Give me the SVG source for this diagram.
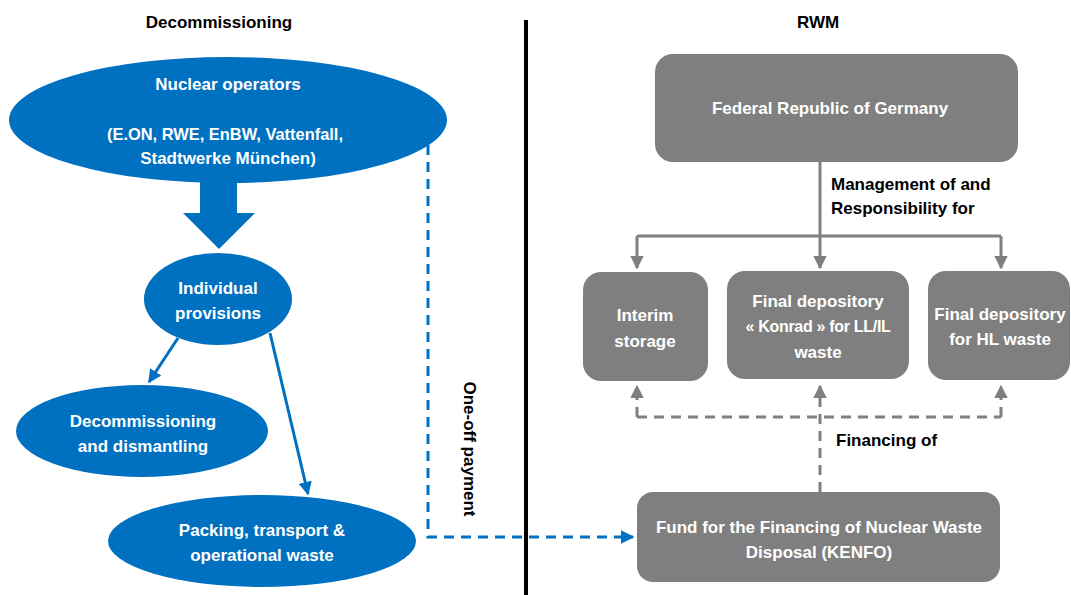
<svg xmlns="http://www.w3.org/2000/svg" width="1071" height="595" viewBox="0 0 1071 595">
<defs>
<style>
text{font-family:"Liberation Sans",Arial,sans-serif;font-weight:bold;font-size:17px;text-anchor:middle}
.w{fill:#fff}
.k{fill:#000}
.blue{fill:#0070C0}
.gray{fill:#7F7F7F}
.bl{stroke:#0070C0;stroke-width:3;fill:none}
.gl{stroke:#7F7F7F;stroke-width:3;fill:none}
.dash{stroke-dasharray:10 7}
</style>
<marker id="ab" viewBox="0 0 10 10" refX="9" refY="5" markerWidth="4.5" markerHeight="4.5" orient="auto" markerUnits="strokeWidth"><path d="M0,0L10,5L0,10z" fill="#0070C0"/></marker>
<marker id="ag" viewBox="0 0 10 10" refX="9" refY="5" markerWidth="4.5" markerHeight="4.5" orient="auto" markerUnits="strokeWidth"><path d="M0,0L10,5L0,10z" fill="#7F7F7F"/></marker>
</defs>

<text class="k" x="219" y="28">Decommissioning</text>
<text class="k" x="818" y="28">RWM</text>
<line x1="526" y1="20" x2="526" y2="595" stroke="#000" stroke-width="4"/>

<g id="connectors">
<path class="bl dash" d="M428,145V537H633" marker-end="url(#ab)"/>
<line class="bl" x1="178" y1="338" x2="149" y2="382" marker-end="url(#ab)"/>
<line class="bl" x1="270" y1="333" x2="308" y2="494" marker-end="url(#ab)"/>
<path class="blue" d="M200,182H237V213H255L219,249L183,213H200Z"/>
<path class="gl" d="M820,162V268"  marker-end="url(#ag)"/>
<path class="gl" d="M637,236H1001"/>
<path class="gl" d="M637,236V268" marker-end="url(#ag)"/>
<path class="gl" d="M1001,236V268" marker-end="url(#ag)"/>
<path class="gl dash" d="M820,492V386" marker-end="url(#ag)"/>
<path class="gl dash" d="M637,417H1001"/>
<path class="gl dash" d="M637,417V386" marker-end="url(#ag)"/>
<path class="gl dash" d="M1001,417V386" marker-end="url(#ag)"/>
<text class="k" x="0" y="0" transform="translate(464,449) rotate(90)">One-off payment</text>
<text class="k" x="831" y="190" style="text-anchor:start">Management of and</text>
<text class="k" x="831" y="214" style="text-anchor:start">Responsibility for</text>
<text class="k" x="836" y="446" style="text-anchor:start">Financing of</text>
</g>

<g id="nuclear-operators">
<ellipse class="blue" cx="228" cy="120" rx="219" ry="63"/>
<text class="w" x="228" y="90">Nuclear operators</text>
<text class="w" x="225" y="140" textLength="236" lengthAdjust="spacingAndGlyphs">(E.ON, RWE, EnBW, Vattenfall,</text>
<text class="w" x="228" y="164">Stadtwerke München)</text>
</g>

<g id="individual-provisions">
<ellipse class="blue" cx="218" cy="299" rx="74" ry="46"/>
<text class="w" x="218" y="294">Individual</text>
<text class="w" x="218" y="319">provisions</text>
</g>

<g id="decommissioning">
<ellipse class="blue" cx="142" cy="431" rx="126" ry="46"/>
<text class="w" x="143" y="427">Decommissioning</text>
<text class="w" x="143" y="452">and dismantling</text>
</g>

<g id="packing">
<ellipse class="blue" cx="262" cy="541" rx="154" ry="46"/>
<text class="w" x="262" y="536">Packing, transport &amp;</text>
<text class="w" x="262" y="561">operational waste</text>
</g>

<g id="federal-republic">
<rect class="gray" x="655" y="54" width="363" height="108" rx="18"/>
<text class="w" x="830" y="114">Federal Republic of Germany</text>
</g>

<g id="interim-storage">
<rect class="gray" x="583" y="272" width="125" height="109" rx="18"/>
<text class="w" x="645" y="321">Interim</text>
<text class="w" x="645" y="347">storage</text>
</g>

<g id="konrad">
<rect class="gray" x="727" y="271" width="182" height="108" rx="18"/>
<text class="w" x="818" y="307">Final depository</text>
<text class="w" x="818" y="332" style="font-size:16px;letter-spacing:-0.3px">« Konrad » for LL/IL</text>
<text class="w" x="818" y="358">waste</text>
</g>

<g id="hl-waste">
<rect class="gray" x="928" y="271" width="142" height="109" rx="18"/>
<text class="w" x="1000" y="320">Final depository</text>
<text class="w" x="1000" y="345">for HL waste</text>
</g>

<g id="kenfo">
<rect class="gray" x="637" y="492" width="363" height="90" rx="16"/>
<text class="w" x="819" y="533">Fund for the Financing of Nuclear Waste</text>
<text class="w" x="819" y="558">Disposal (KENFO)</text>
</g>
</svg>
